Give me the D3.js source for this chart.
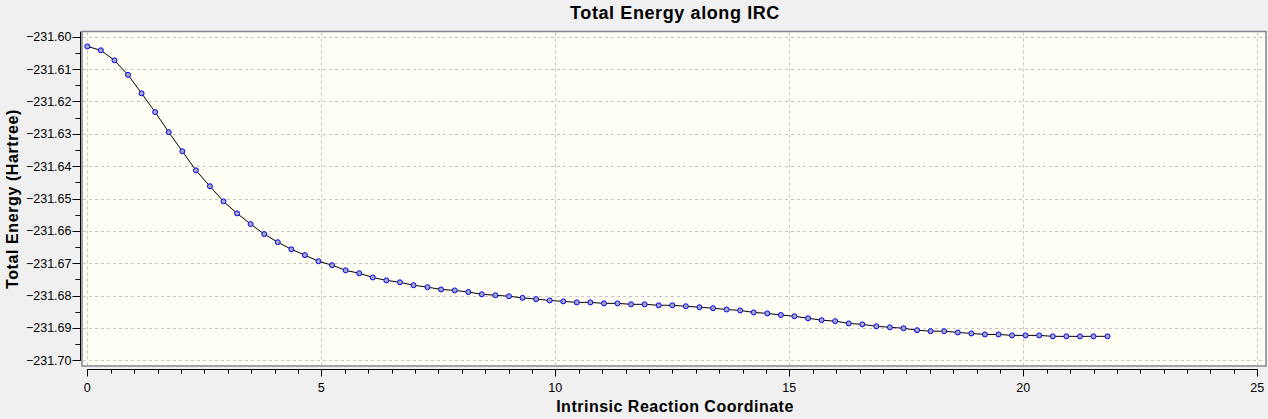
<!DOCTYPE html>
<html>
<head>
<meta charset="utf-8">
<script src="https://cdn.jsdelivr.net/npm/d3@7"></script>
<style>
  html, body { margin: 0; padding: 0; background: #f0f0f0; }
  svg { display: block; font-family: "Liberation Sans", Arial, sans-serif; }
</style>
</head>
<body>
<svg id="chart"></svg>
<script>
const title = "Total Energy along IRC";
const xLabel = "Intrinsic Reaction Coordinate";
const yLabel = "Total Energy (Hartree)";

// reaction coordinate of each IRC point
const coord = [
  0.00, 0.29, 0.58, 0.87, 1.16, 1.45, 1.74, 2.03, 2.32, 2.62,
  2.91, 3.20, 3.49, 3.78, 4.07, 4.36, 4.65, 4.94, 5.23, 5.52,
  5.81, 6.10, 6.39, 6.68, 6.97, 7.27, 7.56, 7.85, 8.14, 8.43,
  8.72, 9.01, 9.30, 9.59, 9.88, 10.17, 10.46, 10.75, 11.04, 11.33,
  11.62, 11.91, 12.21, 12.50, 12.79, 13.08, 13.37, 13.66, 13.95, 14.24,
  14.53, 14.82, 15.11, 15.40, 15.69, 15.98, 16.27, 16.56, 16.86, 17.15,
  17.44, 17.73, 18.02, 18.31, 18.60, 18.89, 19.18, 19.47, 19.76, 20.05,
  20.34, 20.63, 20.92, 21.21, 21.50, 21.80
];

// total energy (Hartree)
const energy = [
  -231.6030, -231.6042, -231.6073, -231.6118, -231.6175, -231.6233, -231.6295, -231.6354, -231.6413, -231.6462,
  -231.6509, -231.6546, -231.6579, -231.6610, -231.6635, -231.6657, -231.6675, -231.6694, -231.6706, -231.6722,
  -231.6731, -231.6744, -231.6753, -231.6759, -231.6768, -231.6774, -231.6781, -231.6784, -231.6789, -231.6796,
  -231.6799, -231.6802, -231.6807, -231.6811, -231.6815, -231.6818, -231.6821, -231.6821, -231.6824, -231.6824,
  -231.6827, -231.6827, -231.6830, -231.6830, -231.6833, -231.6836, -231.6839, -231.6843, -231.6846, -231.6852,
  -231.6855, -231.6860, -231.6864, -231.6870, -231.6876, -231.6879, -231.6886, -231.6889, -231.6895, -231.6898,
  -231.6901, -231.6907, -231.6910, -231.6910, -231.6914, -231.6917, -231.6920, -231.6920, -231.6923, -231.6923,
  -231.6923, -231.6926, -231.6926, -231.6926, -231.6926, -231.6926
];

const xTicks = [0, 5, 10, 15, 20, 25];
const yTicks = [-231.60, -231.61, -231.62, -231.63, -231.64, -231.65, -231.66, -231.67, -231.68, -231.69, -231.70];

const width = 1268;
const height = 419;

// plot frame
const frame = { left: 82, top: 31.5, right: 1266, bottom: 366 };

const svg = d3.select("#chart").attr("width", width).attr("height", height);

const x = d3.scaleLinear().domain([0, 25]).range([87.3, 1257.3]);
const y = d3.scaleLinear().domain([-231.60, -231.70]).range([36.7, 360.3]);

const points = coord.map((c, i) => ({ c, e: energy[i] }));

// plot area background
svg.append("rect")
  .attr("x", frame.left)
  .attr("y", frame.top)
  .attr("width", frame.right - frame.left)
  .attr("height", frame.bottom - frame.top)
  .attr("fill", "#fffff5");

// grid
const grid = svg.append("g")
  .attr("stroke", "#c4c4c4")
  .attr("stroke-width", 1)
  .attr("stroke-dasharray", "3,3");

grid.selectAll("line.h")
  .data(yTicks)
  .join("line")
  .attr("class", "h")
  .attr("x1", frame.left + 1)
  .attr("x2", frame.right - 1)
  .attr("y1", (d) => Math.round(y(d)) + 0.5)
  .attr("y2", (d) => Math.round(y(d)) + 0.5);

grid.selectAll("line.v")
  .data(xTicks)
  .join("line")
  .attr("class", "v")
  .attr("x1", (d) => Math.round(x(d)) + 0.5)
  .attr("x2", (d) => Math.round(x(d)) + 0.5)
  .attr("y1", frame.top + 1)
  .attr("y2", frame.bottom - 1);

svg.append("rect")
  .attr("x", frame.left)
  .attr("y", frame.top)
  .attr("width", frame.right - frame.left)
  .attr("height", frame.bottom - frame.top)
  .attr("fill", "none")
  .attr("stroke", "#84848e")
  .attr("stroke-width", 1.5);

// curve + markers
const line = d3.line()
  .x((d) => x(d.c))
  .y((d) => y(d.e));

svg.append("path")
  .datum(points)
  .attr("d", line)
  .attr("fill", "none")
  .attr("stroke", "#000")
  .attr("stroke-width", 1);

svg.append("g")
  .selectAll("circle")
  .data(points)
  .join("circle")
  .attr("cx", (d) => x(d.c))
  .attr("cy", (d) => y(d.e))
  .attr("r", 2.5)
  .attr("fill", "#a6a6bc")
  .attr("stroke", "#0000ff")
  .attr("stroke-width", 1);

// y axis
const yAxis = svg.append("g").attr("transform", "translate(80.5,0)");
yAxis.append("line")
  .attr("x1", 0).attr("x2", 0)
  .attr("y1", frame.top).attr("y2", y(-231.70) + 0.5)
  .attr("stroke", "#000");

const yMinor = d3.range(0, yTicks.length - 1).map((i) => (yTicks[i] + yTicks[i + 1]) / 2);
yAxis.selectAll("line.minor")
  .data(yMinor)
  .join("line")
  .attr("class", "minor")
  .attr("x1", -5).attr("x2", 0)
  .attr("y1", (d) => Math.round(y(d)) + 0.5)
  .attr("y2", (d) => Math.round(y(d)) + 0.5)
  .attr("stroke", "#000");

yAxis.selectAll("line.major")
  .data(yTicks)
  .join("line")
  .attr("class", "major")
  .attr("x1", -8).attr("x2", 0)
  .attr("y1", (d) => Math.round(y(d)) + 0.5)
  .attr("y2", (d) => Math.round(y(d)) + 0.5)
  .attr("stroke", "#000");

yAxis.selectAll("text")
  .data(yTicks)
  .join("text")
  .attr("x", -9)
  .attr("y", (d) => y(d) + 4.5)
  .attr("text-anchor", "end")
  .attr("font-size", 12.5)
  .attr("fill", "#000")
  .text((d) => d3.format(".2f")(d));

// x axis
const xAxis = svg.append("g").attr("transform", "translate(0,369.5)");
xAxis.append("line")
  .attr("x1", x(0)).attr("x2", x(25))
  .attr("y1", 0).attr("y2", 0)
  .attr("stroke", "#000");

xAxis.selectAll("line.minor")
  .data(x.ticks(50))
  .join("line")
  .attr("class", "minor")
  .attr("x1", (d) => Math.round(x(d)) + 0.5)
  .attr("x2", (d) => Math.round(x(d)) + 0.5)
  .attr("y1", 0).attr("y2", 4)
  .attr("stroke", "#000");

xAxis.selectAll("line.major")
  .data(xTicks)
  .join("line")
  .attr("class", "major")
  .attr("x1", (d) => Math.round(x(d)) + 0.5)
  .attr("x2", (d) => Math.round(x(d)) + 0.5)
  .attr("y1", 0).attr("y2", 7)
  .attr("stroke", "#000");

xAxis.selectAll("text")
  .data(xTicks)
  .join("text")
  .attr("x", (d) => x(d))
  .attr("y", 22)
  .attr("text-anchor", "middle")
  .attr("font-size", 12.5)
  .attr("fill", "#000")
  .text((d) => d);

// titles
svg.append("text")
  .attr("x", 675)
  .attr("y", 19)
  .attr("text-anchor", "middle")
  .attr("font-size", 18)
  .attr("font-weight", "bold")
  .attr("letter-spacing", 0.6)
  .text(title);

svg.append("text")
  .attr("x", 675)
  .attr("y", 412)
  .attr("text-anchor", "middle")
  .attr("font-size", 16)
  .attr("font-weight", "bold")
  .attr("letter-spacing", 0.5)
  .text(xLabel);

svg.append("text")
  .attr("transform", "translate(18,199) rotate(-90)")
  .attr("text-anchor", "middle")
  .attr("font-size", 16)
  .attr("font-weight", "bold")
  .attr("letter-spacing", 0.6)
  .text(yLabel);
</script>
</body>
</html>
